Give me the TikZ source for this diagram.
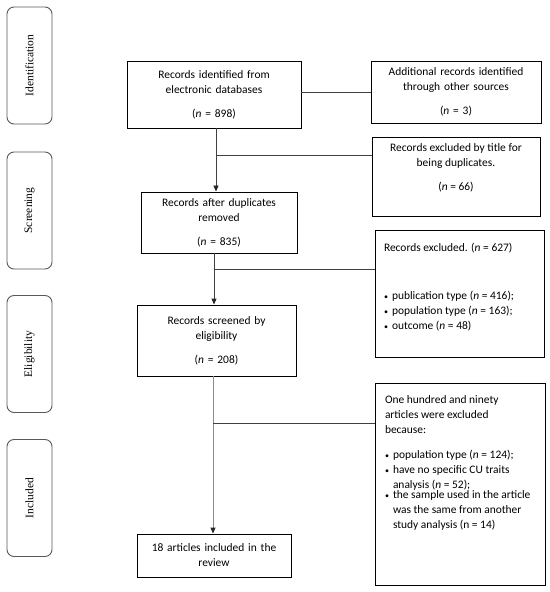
\documentclass[tikz,border=0pt]{standalone}
\usepackage{fontspec}
\setmainfont{Carlito}
\newfontfamily\phasefont{Liberation Serif}
\usetikzlibrary{arrows.meta}

% bullet line, wrapped lines kept under the text
\newcommand{\bitem}[1]{\par\noindent\makebox[8bp][l]{\footnotesize\textbullet}%
  \parbox[t]{142bp}{\raggedright #1}}

\begin{document}
\begin{tikzpicture}[x=1bp,y=-1bp,
    font=\fontsize{11.5}{15}\selectfont,
    box/.style={draw,line width=0.9bp,inner sep=0pt},
    cbox/.style={box,align=center},
    phase/.style={draw=black!65,line width=0.9bp,rounded corners=7bp,rotate=90,
      minimum width=117bp,minimum height=45bp,inner sep=0pt,
      font=\phasefont\fontsize{11.5}{14}\selectfont},
    link/.style={draw=black!75,line width=0.9bp},
    arr/.style={link,-{Triangle[length=6bp,width=5bp,color=black!85]}}]

    \useasboundingbox (0,0) rectangle (550,592);

    % --------------------------------------------------------- %
    % ------------- phases (left column)
    % --------------------------------------------------------- %
    \node[phase] (identif) at (29.5,65.5) {Identification};
    \node[phase] (screening) at (29.5,210.5) {Screening};
    \node[phase] (eligib) at (29.5,354) {Eligibility};
    \node[phase] (included) at (29.5,498) {Included};

    % --------------------------------------------------------- %
    % ------------- main column
    % --------------------------------------------------------- %
    \node[cbox,text width=174bp,minimum height=67bp] (ident) at (214,94.5)
      {Records identified from\\ electronic databases\\[9bp] (\textit{n} = 898)};
    \node[cbox,text width=156bp,minimum height=61bp] (after) at (219,222.5)
      {Records after duplicates\\ removed\\[9bp] (\textit{n} = 835)};
    \node[cbox,text width=159bp,minimum height=71bp] (screen) at (216.5,340.5)
      {Records screened by\\ eligibility\\[9bp] (\textit{n} = 208)};
    \node[cbox,text width=154bp,minimum height=43bp] (incl) at (214,555.5)
      {18 articles included in the\\ review};

    % --------------------------------------------------------- %
    % ------------- side column
    % --------------------------------------------------------- %
    \node[cbox,text width=170bp,minimum height=62bp] (addit) at (456,92)
      {Additional records identified\\ through other sources\\[9bp] (\textit{n} = 3)};
    \node[box] (dupl) at (456,176.5)
      {\parbox[c][79bp][t]{168bp}{\vspace*{7bp}\centering
        Records excluded by title for\\ being duplicates.\\[9bp] (\textit{n} = 66)}};
    \node[box,inner xsep=9bp] (excl) at (459.5,293.5)
      {\parbox[c][127bp][t]{151bp}{\vspace*{13bp}\raggedright
        Records excluded. (\textit{n} = 627)\par\vspace{33bp}
        \bitem{publication type (\textit{n} = 416);}
        \bitem{population type (\textit{n} = 163);}
        \bitem{outcome (\textit{n} = 48)}}};
    \node[box,inner xsep=10bp] (reason) at (460,484)
      {\parbox[c][202bp][t]{150bp}{\vspace*{12.5bp}\raggedright
        One hundred and ninety\\ articles were excluded\\ because:\par\vspace{10bp}
        \bitem{population type (\textit{n} = 124);}
        \bitem{have no specific CU traits\\ analysis (\textit{n} = 52);}
        \bitem{the sample used in the article\\ was the same from another\\ study analysis (n = 14)}}};

    % --------------------------------------------------------- %
    % ------------- connectors
    % --------------------------------------------------------- %
    \coordinate (j1) at (216,155);
    \coordinate (j2) at (214,269);
    \coordinate (j3) at (213,423);

    \draw[link] (ident.east |- addit.west) -- (addit.west);
    \draw[arr] (ident.south -| j1) -- (after.north -| j1);
    \draw[link] (j1) -- (j1 -| dupl.west);
    \draw[arr] (after.south -| j2) -- (screen.north -| j2);
    \draw[link] (j2) -- (j2 -| excl.west);
    \draw[arr,draw=black!45] (screen.south -| j3) -- (incl.north -| j3);
    \draw[link] (j3) -- (j3 -| reason.west);

\end{tikzpicture}
\end{document}
